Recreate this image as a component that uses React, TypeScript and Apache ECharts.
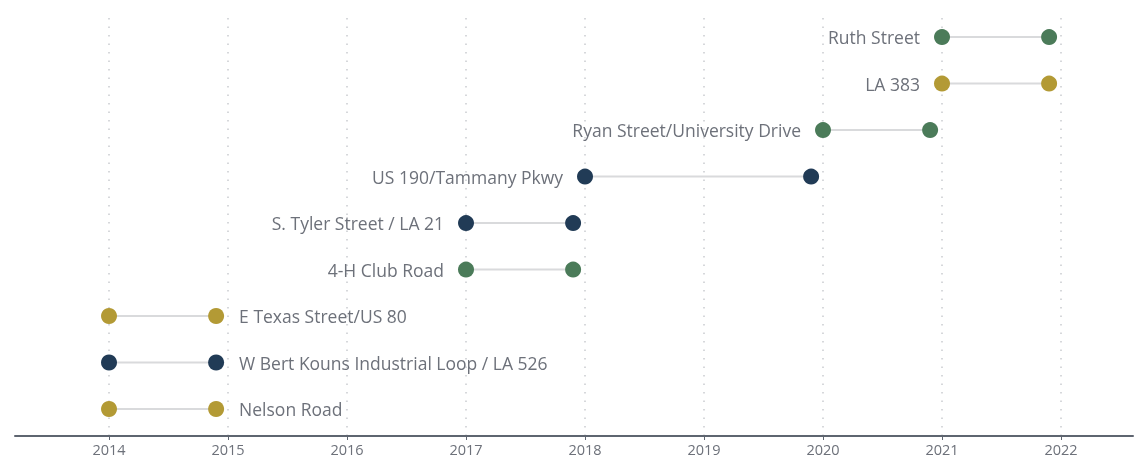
import React, { useEffect, useRef } from "react";
import * as echarts from "echarts";

// rows listed bottom to top
const categories = [
  "Nelson Road",
  "W Bert Kouns Industrial Loop / LA 526",
  "E Texas Street/US 80",
  "4-H Club Road",
  "S. Tyler Street / LA 21",
  "US 190/Tammany Pkwy",
  "Ryan Street/University Drive",
  "LA 383",
  "Ruth Street",
];
const startYears = [2014, 2014, 2014, 2017, 2017, 2018, 2020, 2021, 2021];
const endYears = [2014.9, 2014.9, 2014.9, 2017.9, 2017.9, 2019.9, 2020.9, 2021.9, 2021.9];
const colorGroups = ["gold", "navy", "gold", "green", "navy", "navy", "green", "gold", "green"];
const labelOnRight = [true, true, true, false, false, false, false, false, false];
const yearTicks = [2014, 2015, 2016, 2017, 2018, 2019, 2020, 2021, 2022];

const palette: Record<string, string> = {
  gold: "#b39a35",
  navy: "#213b56",
  green: "#4b7b59",
};

const FONT = "Open Sans";
const TEXT_COLOR = "#6d717a";

export default function App() {
  const ref = useRef<HTMLDivElement>(null);
  useEffect(() => {
    if (!ref.current) return;
    const chart = echarts.init(ref.current, undefined, { renderer: "svg" });

    const connectorSeries = categories.map((c, i) => ({
      type: "line",
      data: [
        [startYears[i], i],
        [endYears[i], i],
      ],
      symbol: "none",
      lineStyle: { color: "#d9dadc", width: 2 },
      silent: true,
      z: 2,
    }));

    const pointData: any[] = [];
    categories.forEach((c, i) => {
      const color = palette[colorGroups[i]];
      pointData.push({
        value: [startYears[i], i],
        itemStyle: { color, opacity: 1 },
        label: labelOnRight[i]
          ? { show: false }
          : { show: true, position: "left", distance: 14, formatter: c },
      });
      pointData.push({
        value: [endYears[i], i],
        itemStyle: { color, opacity: 1 },
        label: labelOnRight[i]
          ? { show: true, position: "right", distance: 15, formatter: c }
          : { show: false },
      });
    });

    chart.setOption({
      animation: false,
      textStyle: { fontFamily: FONT },
      grid: { left: 15, right: 2, top: 12, bottom: 22, containLabel: false },
      xAxis: {
        type: "value",
        min: 2013.21,
        max: 2022.605,
        axisLine: { show: true, onZero: false, lineStyle: { color: "#5e6570", width: 2 } },
        axisTick: {
          show: true,
          customValues: yearTicks,
          length: 4,
          inside: false,
          lineStyle: { color: "#5e6570", width: 1 },
        },
        axisLabel: {
          customValues: yearTicks,
          formatter: (v: number) => String(v),
          color: TEXT_COLOR,
          fontSize: 14.5,
          fontFamily: FONT,
          margin: 6,
        },
        splitLine: { show: false },
      },
      yAxis: {
        type: "value",
        min: -0.58,
        max: 8.54,
        show: false,
        splitLine: { show: false },
      },
      series: [
        {
          type: "line",
          data: [],
          silent: true,
          z: 0,
          markLine: {
            silent: true,
            symbol: "none",
            z: 0,
            label: { show: false },
            lineStyle: { color: "#c9cbcf", type: [1.5, 7], width: 1.5 },
            data: yearTicks.map((y) => ({ xAxis: y })),
          },
        },
        ...connectorSeries,
        {
          type: "scatter",
          data: pointData,
          symbolSize: 16,
          z: 5,
          label: {
            color: TEXT_COLOR,
            fontSize: 17.5,
            fontFamily: FONT,
          },
        },
      ],
    });
    return () => chart.dispose();
  }, []);
  return (
    <div
      ref={ref}
      style={{ position: "fixed", left: 0, top: 0, width: 1135, height: 458 }}
    />
  );
}
